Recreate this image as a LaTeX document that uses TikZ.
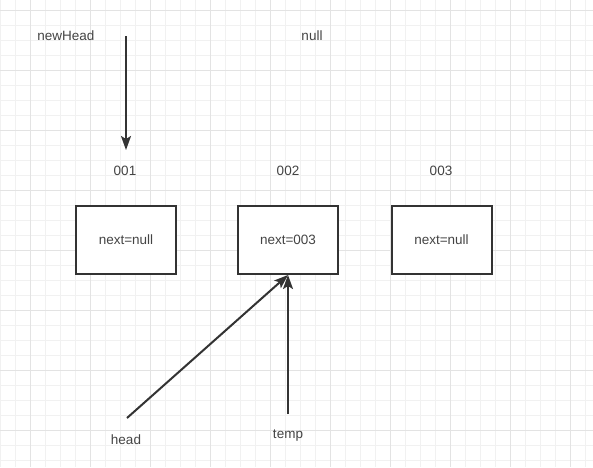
\documentclass[tikz,border=0pt]{standalone}
\usepackage{fontspec}
\setmainfont{Liberation Sans}
\usetikzlibrary{arrows.meta}
\definecolor{gridminor}{HTML}{F1F1F1}
\definecolor{gridmajor}{HTML}{E3E3E3}
\definecolor{ink}{HTML}{333333}
\definecolor{txt}{HTML}{444444}
\begin{document}
\begin{tikzpicture}[x=1pt,y=-1pt,
  box/.style={draw=ink, line width=2pt, minimum width=100pt, minimum height=68pt, inner sep=0pt, fill=white, font=\fontsize{13.5}{15}\selectfont, text=txt},
  lbl/.style={font=\fontsize{13.5}{15}\selectfont, text=txt, inner sep=0pt},
  ptr/.style={draw=ink, line width=2pt, -{Stealth[length=14pt,width=10pt,inset=3pt]}}]
\useasboundingbox (0,0) rectangle (593,467);
\fill[white] (0,0) rectangle (593,467);
% grid
\foreach \x in {0,15,...,585} \draw[gridminor, line width=1pt] (\x,0) -- (\x,467);
\foreach \y in {10,25,...,460} \draw[gridminor, line width=1pt] (0,\y) -- (593,\y);
\foreach \x in {30,90,...,570} \draw[gridmajor, line width=1pt] (\x,0) -- (\x,467);
\foreach \y in {10,70,...,430} \draw[gridmajor, line width=1pt] (0,\y) -- (593,\y);
% boxes
\node[box] (b1) at (126,240) {next=null};
\node[box] (b2) at (288,240) {next=003};
\node[box] (b3) at (441.5,240) {next=null};
% labels
\node[lbl] (l1) at (125,171) {001};
\node[lbl] (l2) at (288,171) {002};
\node[lbl] (l3) at (441,171) {003};
\node[lbl] (newhead) at (66,36) {newHead};
\node[lbl] (null) at (312,36) {null};
\node[lbl] (head) at (126,440) {head};
\node[lbl] (temp) at (288,436) {temp};
% arrow endpoints
\coordinate (nhs) at (126,36);
\coordinate (nhe) at (126,150);
\coordinate (hs) at (127,418);
\coordinate (ts) at (288,414);
\draw[ptr] (nhs) -- (nhe);
\draw[ptr] (hs) -- (b2.south);
\draw[ptr] (ts) -- (b2.south);
\end{tikzpicture}
\end{document}
